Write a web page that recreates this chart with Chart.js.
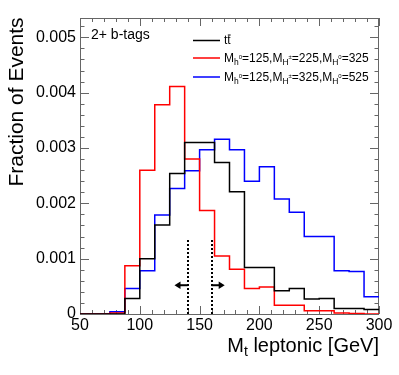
<!DOCTYPE html>
<html lang="en">
<head>
    <meta charset="UTF-8">
    <title>Mt leptonic</title>
    <script src="https://cdn.jsdelivr.net/npm/chart.js@4.4.1/dist/chart.umd.min.js"></script>
    <style>
        body { margin: 0; padding: 0; background: #fff; }
        #chart-container { width: 399px; height: 375px; }
    </style>
</head>
<body>
    <div id="chart-container">
        <canvas id="myChart"></canvas>
    </div>

    <script>
    // bin edges of the histograms (GeV)
    const binEdges = [50, 62.5, 75, 87.5, 100, 112.5, 125, 137.5, 150, 162.5, 175,
                      187.5, 200, 212.5, 225, 237.5, 250, 262.5, 275, 287.5, 300];

    // fraction of events per bin
    const ttbar  = [0, 0, 0, 0.00028, 0.00100, 0.00161, 0.00254, 0.00310, 0.00310, 0.00274,
                    0.00221, 0.00084, 0.00084, 0.00042, 0.00046, 0.00027, 0.00028, 0.00010, 0.00010, 0.00008];
    const sig225 = [0, 0, 0.00002, 0.00087, 0.00260, 0.00378, 0.00411, 0.00280, 0.00187, 0.00105,
                    0.00081, 0.00046, 0.00049, 0.00016, 0.00016, 0.00006, 0.00006, 0.00002, 0.00001, 0];
    const sig325 = [0, 0, 0.00004, 0.00046, 0.00078, 0.00179, 0.00227, 0.00259, 0.00297, 0.00316,
                    0.00297, 0.00240, 0.00266, 0.00208, 0.00184, 0.00140, 0.00140, 0.00078, 0.00077, 0.00031];

    const seriesNames = ['ttbar', 'sig225', 'sig325'];
    const seriesColors = ['#000000', '#ff0000', '#0000ff'];

    // cut window and arrows
    const cutEdges = [140, 160];
    const cutHeight = 0.00134;
    const arrowTips = [129, 171];
    const arrowLevel = 0.00052;

    const xTicks = [50, 100, 150, 200, 250, 300];
    const yTicks = [0, 0.001, 0.002, 0.003, 0.004, 0.005];

    const FONT = '"Liberation Sans", Arial, sans-serif';

    function toSteps(vals) {
        const pts = vals.map((v, i) => ({ x: binEdges[i], y: v }));
        pts.push({ x: binEdges[binEdges.length - 1], y: vals[vals.length - 1] });
        return pts;
    }

    function histDataset(label, vals, color) {
        return {
            label: label,
            data: toSteps(vals),
            borderColor: color,
            borderWidth: 1.5,
            stepped: 'before',
            pointRadius: 0,
            fill: false,
            tension: 0
        };
    }

    // draws text pieces with sub/superscripts, returns end x
    function richText(ctx, x, y, parts) {
        parts.forEach(p => {
            ctx.font = p.size + 'px ' + FONT;
            ctx.fillText(p.t, x, y + (p.dy || 0));
            x += ctx.measureText(p.t).width;
        });
        return x;
    }

    function massParts(a, b, c) {
        const sub = 8.5, sup = 6, main = 12;
        return [
            { t: 'M', size: main }, { t: 'h', size: sub, dy: 2.5 }, { t: '0', size: sup, dy: -3 },
            { t: '=' + a + ',M', size: main }, { t: 'H', size: sub, dy: 2.5 }, { t: '\u00b1', size: sup, dy: -3 },
            { t: '=' + b + ',M', size: main }, { t: 'H', size: sub, dy: 2.5 }, { t: '0', size: sup, dy: -3 },
            { t: '=' + c, size: main }
        ];
    }

    const rootDecor = {
        id: 'rootDecor',
        beforeDatasetsDraw(chart) {
            const ctx = chart.ctx;
            const xs = chart.scales.x, ys = chart.scales.y;
            const a = chart.chartArea;
            ctx.save();
            // frame
            ctx.strokeStyle = '#666';
            ctx.lineWidth = 1;
            ctx.strokeRect(a.left + 0.5, a.top + 0.5, a.right - a.left - 1, a.bottom - a.top);

            // ticks on all four sides
            ctx.beginPath();
            for (let v = 50; v <= 300.001; v += 10) {
                const px = Math.round(xs.getPixelForValue(v)) + 0.5;
                const len = (v % 50 === 0) ? 8 : 4;
                ctx.moveTo(px, a.bottom); ctx.lineTo(px, a.bottom - len);
                ctx.moveTo(px, a.top); ctx.lineTo(px, a.top + len);
            }
            for (let k = 0; k <= 26; k++) {
                const v = k * 0.0002;
                const py = Math.round(ys.getPixelForValue(v)) + 0.5;
                const len = (k % 5 === 0) ? 9 : 4.5;
                ctx.moveTo(a.left, py); ctx.lineTo(a.left + len, py);
                ctx.moveTo(a.right, py); ctx.lineTo(a.right - len, py);
            }
            ctx.stroke();
            ctx.restore();
        },
        afterDatasetsDraw(chart) {
            const ctx = chart.ctx;
            const xs = chart.scales.x, ys = chart.scales.y;
            const a = chart.chartArea;
            ctx.save();

            // cut lines
            ctx.strokeStyle = '#000';
            ctx.lineWidth = 2;
            ctx.setLineDash([2, 2]);
            cutEdges.forEach(c => {
                const px = Math.round(xs.getPixelForValue(c));
                ctx.beginPath();
                ctx.moveTo(px, ys.getPixelForValue(0));
                ctx.lineTo(px, ys.getPixelForValue(cutHeight));
                ctx.stroke();
            });
            ctx.setLineDash([]);

            // arrows
            const ay = ys.getPixelForValue(arrowLevel);
            cutEdges.forEach((c, i) => {
                const x0 = xs.getPixelForValue(c);
                const x1 = xs.getPixelForValue(arrowTips[i]);
                const dir = Math.sign(x1 - x0);
                ctx.lineWidth = 2;
                ctx.beginPath();
                ctx.moveTo(x0, ay);
                ctx.lineTo(x1 - dir * 4, ay);
                ctx.stroke();
                ctx.fillStyle = '#000';
                ctx.beginPath();
                ctx.moveTo(x1, ay);
                ctx.lineTo(x1 - dir * 6, ay - 3.8);
                ctx.lineTo(x1 - dir * 6, ay + 3.8);
                ctx.closePath();
                ctx.fill();
            });

            // labels
            ctx.fillStyle = '#000';
            ctx.textBaseline = 'alphabetic';
            ctx.textAlign = 'left';
            ctx.font = '14px ' + FONT;
            ctx.fillText('2+ b-tags', 91, 38.5);

            // legend
            const legX0 = 193, legX1 = 220, textX = 224;
            const rows = [40.5, 58, 77];
            rows.forEach((ry, i) => {
                ctx.strokeStyle = seriesColors[i];
                ctx.lineWidth = 1.5;
                ctx.beginPath();
                ctx.moveTo(legX0, ry);
                ctx.lineTo(legX1, ry);
                ctx.stroke();
            });
            ctx.fillStyle = '#000';
            ctx.font = '12px ' + FONT;
            ctx.fillText('tt', textX, rows[0] + 3.5);
            const tw = ctx.measureText('t').width;
            ctx.strokeStyle = '#000';
            ctx.lineWidth = 1;
            ctx.beginPath();
            ctx.moveTo(textX + tw + 0.5, rows[0] - 5.5);
            ctx.lineTo(textX + 2 * tw, rows[0] - 5.5);
            ctx.stroke();
            richText(ctx, textX, rows[1] + 4.3, massParts(125, 225, 325));
            richText(ctx, textX, rows[2] + 4.3, massParts(125, 325, 525));

            // x title, right aligned
            ctx.font = '20px ' + FONT;
            const w1 = ctx.measureText('M').width;
            ctx.font = '14px ' + FONT;
            const w2 = ctx.measureText('t').width;
            ctx.font = '20px ' + FONT;
            const w3 = ctx.measureText(' leptonic [GeV]').width;
            const xStart = a.right - (w1 + w2 + w3);
            richText(ctx, xStart, 352, [
                { t: 'M', size: 20 }, { t: 't', size: 14, dy: 4 }, { t: ' leptonic [GeV]', size: 20 }
            ]);

            // y title
            ctx.save();
            ctx.translate(23, 102);
            ctx.rotate(-Math.PI / 2);
            ctx.textAlign = 'center';
            ctx.font = '21px ' + FONT;
            ctx.fillText('Fraction of Events', 0, 0);
            ctx.restore();

            ctx.restore();
        }
    };

    function createChart() {
        const ctx = document.getElementById('myChart').getContext('2d');
        new Chart(ctx, {
            type: 'line',
            data: {
                datasets: [
                    histDataset(seriesNames[0], ttbar, seriesColors[0]),
                    histDataset(seriesNames[1], sig225, seriesColors[1]),
                    histDataset(seriesNames[2], sig325, seriesColors[2])
                ]
            },
            options: {
                responsive: true,
                maintainAspectRatio: false,
                animation: false,
                layout: { padding: { top: 18, right: 20, left: 0, bottom: 0 } },
                plugins: { legend: { display: false }, tooltip: { enabled: false } },
                scales: {
                    x: {
                        type: 'linear',
                        min: 50,
                        max: 300,
                        afterFit: s => { s.height = 61; },
                        afterBuildTicks: s => { s.ticks = xTicks.map(v => ({ value: v })); },
                        grid: { display: false, drawTicks: false },
                        border: { display: false },
                        ticks: {
                            color: '#000',
                            padding: 2,
                            maxRotation: 0,
                            autoSkip: false,
                            font: { family: FONT, size: 16 }
                        }
                    },
                    y: {
                        type: 'linear',
                        min: 0,
                        max: 0.00535,
                        afterFit: s => { s.width = 80; },
                        afterBuildTicks: s => { s.ticks = yTicks.map(v => ({ value: v })); },
                        grid: { display: false, drawTicks: false },
                        border: { display: false },
                        ticks: {
                            color: '#000',
                            padding: 4,
                            autoSkip: false,
                            font: { family: FONT, size: 16 },
                            callback: v => v === 0 ? '0' : v.toFixed(3)
                        }
                    }
                }
            },
            plugins: [rootDecor]
        });
    }

    createChart();
    </script>
</body>
</html>
